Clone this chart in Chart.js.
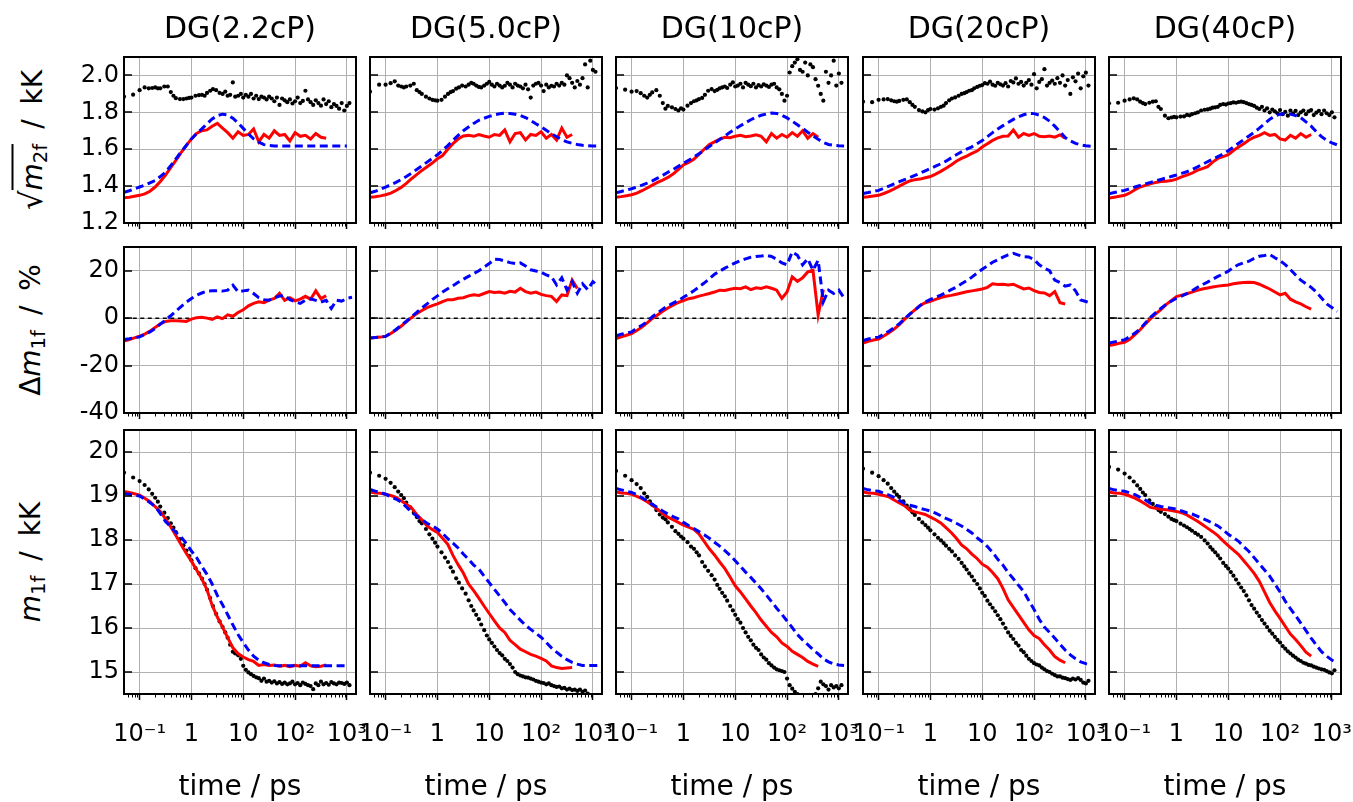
<!DOCTYPE html>
<html>
<head>
<meta charset="utf-8">
<title>Solvation dynamics in DG mixtures</title>
<script src="https://cdn.jsdelivr.net/npm/chart.js@4.4.1/dist/chart.umd.min.js"></script>
<style>
  html, body { margin: 0; padding: 0; background: #fff; }
  #fig { position: relative; width: 1353px; height: 802px; overflow: hidden;
         font-family: "DejaVu Sans", sans-serif; color: #000; }
  #fig canvas { position: absolute; left: 0; top: 0; }
  .ylab { position: absolute; left: 31px; transform: translate(-50%, -50%) rotate(-90deg);
          white-space: nowrap; font-size: 28px; line-height: 1; word-spacing: 6px; }
  .ylab i { font-style: italic; }
  .ylab sub { font-size: 70%; vertical-align: -0.28em; line-height: 0; }
  .ylab .rad { font-size: 110%; }
  .ylab .ov { border-top: 2px solid #000; padding-top: 2px; }
</style>
</head>
<body>
<div id="fig">
  <div class="ylab" style="top:140px"><span class="rad">√</span><span class="ov"><i>m</i><sub>2f</sub></span> / kK</div>
  <div class="ylab" style="top:330px">Δ<i>m</i><sub>1f</sub> / %</div>
  <div class="ylab" style="top:562px"><i>m</i><sub>1f</sub> / kK</div>
</div>
<script>
// ---------------------------------------------------------------
// Time grids (ps)
// ---------------------------------------------------------------
const tFine = [0.0501,0.0631,0.0794,
  0.1,0.1259,0.1585,0.1995,0.2512,0.3162,0.3981,0.5012,0.631,0.7943,
  1,1.259,1.585,1.995,2.512,3.162,3.981,5.012,6.31,7.943,
  10,12.59,15.85,19.95,25.12,31.62,39.81,50.12,63.1,79.43,
  100,125.9,158.5,199.5,251.2,316.2,398.1,501.2,631,794.3,
  1000,1259];

const tDots = [0.05,0.075,0.1,0.125,0.15,0.175,0.2,0.225,0.25,
  0.3,0.35,0.4,0.45,0.5,0.6,0.7,0.8,0.9,
  1,1.2,1.4,1.6,1.8,2,2.3,2.6,3,
  3.5,4,4.5,5,5.6,6.3,7,8,9,
  10,11.22,12.59,14.13,15.85,17.78,19.95,22.39,25.12,28.18,
  31.62,35.48,39.81,44.67,50.12,56.23,63.1,70.79,79.43,89.13,
  100,112.2,125.9,141.3,158.5,177.8,199.5,223.9,251.2,281.8,
  316.2,354.8,398.1,446.7,501.2,562.3,631,707.9,794.3,891.3,
  1000,1122];

// ---------------------------------------------------------------
// Band width sqrt(m2f) / kK
// ---------------------------------------------------------------
const w22Exp = [1.885,1.896,1.92,1.935,1.93,1.932,1.935,1.93,1.93,
  1.94,1.94,1.91,1.89,1.877,1.872,1.872,1.875,1.878,
  1.88,1.89,1.893,1.895,1.89,1.905,1.917,1.926,1.92,
  1.905,1.9,1.912,1.89,1.895,1.962,1.885,1.89,1.9,
  1.88,1.895,1.885,1.9,1.875,1.89,1.872,1.885,1.88,1.87,
  1.885,1.875,1.86,1.88,1.84,1.875,1.865,1.855,1.87,1.848,
  1.86,1.88,1.85,1.862,1.917,1.87,1.855,1.84,1.865,1.85,
  1.836,1.87,1.845,1.86,1.828,1.845,1.835,1.82,1.85,1.81,
  1.835,1.85];
const w22Sim = [1.337,1.34,1.345,
  1.35,1.358,1.372,1.395,1.425,1.46,1.50,1.54,1.582,1.62,
  1.656,1.686,1.70,1.705,1.725,1.74,1.715,1.69,1.66,1.695,
  1.675,1.68,1.71,1.64,1.68,1.66,1.70,1.675,1.68,1.645,
  1.69,1.67,1.675,1.655,1.685,1.665,1.66,null,null,null,
  null,null];
const w22Mod = [1.367,1.375,1.385,
  1.395,1.405,1.418,1.43,1.452,1.476,1.51,1.548,1.585,1.62,
  1.656,1.685,1.71,1.738,1.764,1.782,1.79,1.786,1.768,1.742,
  1.713,1.683,1.656,1.638,1.625,1.62,1.618,1.618,1.618,1.618,
  1.618,1.618,1.618,1.618,1.618,1.618,1.618,1.618,1.618,1.618,
  1.618,null];

const w50Exp = [1.912,1.95,1.95,1.958,1.968,1.945,1.94,1.935,1.94,
  1.945,1.955,1.92,1.91,1.9,1.885,1.875,1.868,1.865,
  1.863,1.868,1.885,1.9,1.91,1.915,1.928,1.935,1.945,
  1.94,1.95,1.96,1.955,1.945,1.938,1.935,1.945,1.955,
  1.965,1.95,1.94,1.955,1.945,1.935,1.944,1.96,1.95,1.935,
  1.955,1.945,1.94,1.93,1.95,1.925,1.88,1.945,1.955,1.96,
  1.945,1.915,1.95,1.935,1.944,1.94,1.955,1.945,1.96,1.95,
  2.0,1.985,1.96,1.935,1.97,1.95,1.985,2.06,1.935,2.08,
  2.03,2.02];
const w50Sim = [1.34,1.342,1.347,
  1.353,1.362,1.376,1.393,1.415,1.44,1.462,1.485,1.505,1.525,
  1.548,1.566,1.6,1.63,1.655,1.672,1.675,1.67,1.68,1.672,
  1.665,1.68,1.675,1.705,1.64,1.685,1.69,1.65,1.68,1.675,
  1.695,1.66,1.68,1.65,1.715,1.665,1.68,null,null,null,
  null,null];
const w50Mod = [1.364,1.372,1.383,
  1.395,1.407,1.42,1.435,1.452,1.47,1.49,1.51,1.53,1.55,
  1.57,1.595,1.62,1.648,1.675,1.70,1.72,1.74,1.757,1.768,
  1.778,1.786,1.792,1.795,1.794,1.79,1.783,1.772,1.756,1.738,
  1.722,1.703,1.684,1.668,1.652,1.64,1.632,1.626,1.621,1.619,
  1.618,1.618];

const w10Exp = [1.932,1.923,1.912,1.915,1.904,1.89,1.88,1.895,1.908,
  1.92,1.89,1.85,1.82,1.835,1.827,1.818,1.81,1.822,
  1.815,1.836,1.85,1.86,1.865,1.872,1.878,1.895,1.917,
  1.926,1.915,1.922,1.93,1.935,1.94,1.932,1.95,1.962,
  1.94,1.945,1.955,1.935,1.96,1.95,1.942,1.955,1.935,1.948,
  1.94,1.952,1.945,1.938,1.95,1.955,1.935,1.925,1.9,1.863,
  1.89,2.016,2.05,2.07,2.088,2.03,2.02,2.07,2.0,2.06,
  2.045,1.98,1.944,1.9,1.863,2.02,1.96,2.0,2.08,1.945,
  2.01,1.96];
const w10Sim = [1.34,1.343,1.348,
  1.353,1.362,1.375,1.39,1.405,1.42,1.433,1.447,1.465,1.49,
  1.515,1.528,1.545,1.572,1.6,1.625,1.64,1.655,1.665,1.662,
  1.67,1.675,1.668,1.672,1.678,1.67,1.64,1.685,1.66,1.68,
  1.665,1.69,1.67,1.7,1.66,1.685,1.665,null,null,null,
  null,null];
const w10Mod = [1.364,1.371,1.378,
  1.386,1.395,1.405,1.416,1.428,1.443,1.458,1.475,1.49,1.507,
  1.523,1.54,1.557,1.575,1.595,1.615,1.634,1.653,1.672,1.692,
  1.71,1.727,1.744,1.76,1.773,1.784,1.791,1.796,1.794,1.784,
  1.77,1.752,1.733,1.713,1.692,1.672,1.654,1.637,1.626,1.621,
  1.619,1.618];

const w20Exp = [1.858,1.855,1.868,1.87,1.872,1.865,1.86,1.858,1.862,
  1.868,1.87,1.855,1.84,1.83,1.812,1.805,1.8,1.812,
  1.818,1.815,1.822,1.83,1.836,1.85,1.865,1.875,1.881,
  1.89,1.9,1.904,1.91,1.917,1.92,1.93,1.938,1.944,
  1.948,1.958,1.955,1.966,1.95,1.944,1.96,1.952,1.945,1.958,
  1.94,1.97,1.962,1.984,1.955,1.965,1.945,1.96,1.975,1.95,
  2.007,1.93,1.965,1.98,2.034,1.945,1.96,1.972,1.955,1.985,
  1.96,2.0,1.945,1.975,1.9,1.99,1.968,2.01,1.93,1.995,
  2.015,1.945];
const w20Sim = [1.34,1.342,1.346,
  1.35,1.36,1.372,1.385,1.4,1.415,1.428,1.435,1.438,1.445,
  1.452,1.465,1.48,1.497,1.515,1.535,1.55,1.563,1.577,1.59,
  1.612,1.63,1.648,1.662,1.67,1.672,1.705,1.665,1.685,1.675,
  1.685,1.67,1.668,1.672,1.665,1.678,1.66,null,null,null,
  null,null];
const w20Mod = [1.36,1.365,1.371,
  1.377,1.388,1.4,1.412,1.424,1.435,1.446,1.458,1.47,1.483,
  1.495,1.508,1.521,1.535,1.553,1.57,1.586,1.6,1.613,1.63,
  1.647,1.668,1.69,1.71,1.728,1.745,1.762,1.776,1.787,1.794,
  1.793,1.785,1.772,1.752,1.725,1.695,1.663,1.645,1.632,1.624,
  1.619,1.616];

const w40Exp = [1.849,1.852,1.863,1.87,1.876,1.87,1.858,1.85,1.845,
  1.852,1.858,1.86,1.83,1.818,1.782,1.768,1.772,1.775,
  1.773,1.777,1.778,1.786,1.784,1.79,1.795,1.8,1.81,
  1.814,1.816,1.82,1.825,1.827,1.83,1.84,1.845,1.842,
  1.848,1.85,1.854,1.852,1.856,1.858,1.855,1.85,1.845,1.84,
  1.835,1.825,1.818,1.83,1.81,1.822,1.8,1.815,1.805,1.795,
  1.812,1.79,1.802,1.782,1.81,1.795,1.808,1.785,1.8,1.81,
  1.79,1.805,1.812,1.785,1.798,1.808,1.79,1.81,1.795,1.785,
  1.8,1.773];
const w40Sim = [1.335,1.34,1.345,
  1.35,1.363,1.38,1.395,1.404,1.412,1.42,1.425,1.427,1.43,
  1.438,1.45,1.46,1.47,1.485,1.495,1.505,1.53,1.55,1.56,
  1.57,1.593,1.612,1.63,1.65,1.665,1.675,1.69,1.675,1.68,
  1.656,1.65,1.675,1.66,1.685,1.665,1.68,null,null,null,
  null,null];
const w40Mod = [1.359,1.365,1.371,
  1.377,1.386,1.395,1.404,1.412,1.42,1.428,1.436,1.444,1.452,
  1.46,1.469,1.478,1.49,1.503,1.518,1.532,1.546,1.56,1.574,
  1.592,1.612,1.632,1.652,1.672,1.692,1.714,1.738,1.762,1.78,
  1.79,1.792,1.79,1.782,1.771,1.748,1.725,1.695,1.668,1.648,
  1.634,1.624];

// ---------------------------------------------------------------
// Relative shift of the first moment, delta m1f / %
// ---------------------------------------------------------------
const d22Sim = [-9.7,-9.0,-8.3,
  -7.6,-6.7,-5.5,-3.9,-2.4,-1.4,-1.1,-1.1,-1.2,-1.4,
  -0.4,0.2,0.4,0.0,-0.5,0.5,-0.2,1.4,0.8,2.4,
  3.5,5.2,6.2,6.9,6.5,7.6,8.3,10.5,7.5,8.6,
  7.3,8.0,9.2,8.0,11.5,8.2,9.5,null,null,null,
  null,null];
const d22Mod = [-9.0,-8.7,-8.3,
  -7.9,-6.9,-5.8,-4.3,-2.5,-0.8,1.0,3.0,4.9,6.7,
  8.3,9.7,10.6,11.4,11.5,11.6,11.4,11.8,13.9,11.1,
  11.5,11.8,10.4,8.6,7.8,7.6,8.6,9.3,9.6,7.8,
  6.9,6.2,7.6,8.2,7.5,6.8,7.5,4.1,7.6,7.2,
  8.3,8.8];

const d50Sim = [-8.4,-8.2,-8.0,
  -7.7,-6.5,-5.0,-3.4,-1.6,0.2,1.9,3.2,4.4,5.3,
  6.0,7.0,7.8,7.8,8.4,8.6,9.4,9.9,9.6,10.4,
  11.2,10.8,11.0,10.5,11.3,11.0,12.6,11.2,10.5,11.0,
  10.0,9.5,9.2,7.0,9.8,9.5,16.1,12.5,null,null,
  null,null];
const d50Mod = [-8.4,-8.2,-8.0,
  -7.7,-6.3,-4.8,-3.0,-1.3,0.6,2.4,4.3,6.0,7.8,
  9.4,11.0,12.4,13.7,15.1,16.4,17.6,18.8,20.0,21.5,
  23.0,24.8,24.7,24.1,23.4,23.0,23.3,22.0,20.4,19.9,
  19.4,18.2,17.5,14.0,17.0,11.9,15.4,10.5,14.5,12.0,
  15.4,13.6];

const d10Sim = [-8.6,-7.9,-7.2,
  -6.5,-5.2,-3.8,-2.0,-0.1,1.3,2.9,4.3,5.5,6.6,
  7.4,8.2,8.6,9.3,9.8,10.4,11.0,11.8,11.7,12.2,
  12.6,12.4,13.2,12.0,12.8,12.5,13.2,12.6,11.8,8.3,
  11.0,17.4,15.5,17.0,19.5,20.2,1.3,12.0,null,null,
  null,null];
const d10Mod = [-7.4,-6.8,-6.3,
  -5.8,-4.2,-3.0,-1.5,0.6,2.2,3.8,5.2,6.3,7.4,
  8.8,10.1,11.5,13.2,14.8,16.6,18.5,19.8,21.1,22.2,
  23.3,24.3,25.0,25.7,26.0,26.2,26.5,26.0,24.8,23.3,
  22.5,27.9,26.5,22.5,25.0,20.2,24.4,6.9,11.8,10.4,
  11.8,8.5];

const d20Sim = [-10.5,-9.8,-9.2,
  -8.8,-7.5,-6.2,-4.6,-2.7,-0.5,1.6,3.5,5.3,6.5,
  7.1,7.9,8.7,9.2,9.6,10.1,10.6,11.1,11.5,11.9,
  12.3,13.0,14.5,14.2,14.3,14.0,14.3,13.3,12.3,12.7,
  11.6,10.8,10.6,9.5,11.2,6.5,6.0,null,null,null,
  null,null];
const d20Mod = [-9.4,-8.8,-8.3,
  -8.0,-6.8,-5.5,-4.0,-2.4,-0.3,1.7,3.4,5.3,6.8,
  7.9,8.8,9.7,10.8,12.0,13.1,14.5,15.8,17.3,19.0,
  20.6,22.0,23.6,24.6,25.7,26.7,27.3,26.6,25.9,25.8,
  24.6,22.5,21.0,20.0,16.0,15.0,13.5,14.0,11.5,7.7,
  7.0,6.3];

const d40Sim = [-11.6,-11.1,-10.6,
  -10.2,-8.9,-7.0,-4.9,-2.5,-0.2,1.8,3.6,5.7,7.4,
  9.1,9.7,10.3,11.0,11.7,12.3,12.7,13.1,13.5,13.8,
  14.0,14.5,14.8,15.0,15.1,15.0,14.3,13.3,12.3,11.0,
  9.8,10.5,8.0,6.9,6.0,4.8,3.8,null,null,null,
  null,null];
const d40Mod = [-10.5,-10.0,-9.6,
  -9.1,-7.8,-6.3,-4.5,-2.0,0.3,2.3,4.1,5.8,7.1,
  8.4,9.3,10.3,11.5,12.9,14.1,15.2,16.4,17.6,18.6,
  19.8,21.4,22.6,23.3,24.0,25.2,26.1,26.4,26.9,25.5,
  24.2,22.6,20.5,18.2,16.0,14.5,13.0,11.0,8.5,6.0,
  4.5,2.8];

// reference level of the shift panels
const zeroT = [0.01, 10000];
const zeroV = [0, 0];

// ---------------------------------------------------------------
// First moment m1f / kK
// ---------------------------------------------------------------
const m22Exp = [19.53,19.42,19.34,19.25,19.15,19.05,18.96,18.87,18.76,
  18.62,18.5,18.38,18.28,18.18,18.02,17.88,17.76,17.64,
  17.54,17.36,17.24,17.12,17.0,16.87,16.68,16.5,16.32,
  16.15,16.02,15.9,15.78,15.62,15.46,15.42,15.38,15.3,
  15.14,15.05,14.99,14.95,14.91,14.88,14.86,14.8,14.85,14.78,
  14.8,14.76,14.79,14.74,14.77,14.73,14.76,14.72,14.74,14.78,
  14.72,14.75,14.7,14.76,14.73,14.7,14.68,14.61,14.74,14.7,
  14.78,14.72,14.75,14.71,14.77,14.74,14.72,14.76,14.75,14.73,
  14.76,14.7];
const m22Sim = [19.1,19.08,19.05,
  19.02,18.95,18.87,18.76,18.65,18.48,18.3,18.1,17.9,17.7,
  17.52,17.32,17.12,16.87,16.52,16.25,16.02,15.78,15.55,15.42,
  15.34,15.28,15.24,15.15,15.17,15.15,15.16,15.13,15.15,15.12,
  15.15,15.13,15.21,15.14,15.12,15.13,15.16,null,null,null,
  null,null];
const m22Mod = [19.05,19.04,19.02,
  19.0,18.93,18.85,18.76,18.6,18.42,18.3,18.17,18.07,17.92,
  17.75,17.6,17.4,17.22,17.0,16.74,16.53,16.3,16.07,15.85,
  15.67,15.5,15.36,15.27,15.21,15.17,15.15,15.14,15.14,15.14,
  15.14,15.14,15.14,15.14,15.14,15.14,15.14,15.14,15.14,15.14,
  15.14,null];

const m50Exp = [19.53,19.46,19.39,19.3,19.2,19.1,19.02,18.95,18.85,
  18.74,18.62,18.52,18.43,18.38,18.25,18.13,18.03,17.94,
  17.85,17.72,17.6,17.5,17.38,17.28,17.13,17.03,16.9,
  16.78,16.63,16.5,16.4,16.3,16.2,16.08,15.95,15.83,
  15.74,15.66,15.58,15.5,15.43,15.38,15.3,15.25,15.18,15.1,
  15.0,14.95,14.92,14.9,14.88,14.87,14.85,14.83,14.8,14.78,
  14.76,14.75,14.72,14.74,14.7,14.68,14.66,14.67,14.63,14.64,
  14.6,14.62,14.59,14.6,14.57,14.6,14.55,14.58,14.51,null,
  null,null];
const m50Sim = [19.09,19.07,19.06,
  19.04,19.01,18.97,18.89,18.81,18.73,18.58,18.46,18.32,18.24,
  18.17,18.04,17.9,17.65,17.44,17.25,17.0,16.85,16.68,16.5,
  16.33,16.16,16.0,15.9,15.72,15.62,15.52,15.46,15.4,15.36,
  15.31,15.25,15.14,15.1,15.08,15.09,15.1,null,null,null,
  null,null];
const m50Mod = [19.15,19.11,19.08,
  19.04,18.98,18.93,18.86,18.75,18.63,18.55,18.46,18.38,18.32,
  18.25,18.15,18.03,17.93,17.82,17.68,17.56,17.43,17.34,17.18,
  17.03,16.88,16.73,16.58,16.42,16.3,16.18,16.06,15.97,15.88,
  15.79,15.67,15.55,15.45,15.36,15.28,15.22,15.18,15.15,15.15,
  15.15,15.15];

const m10Exp = [19.57,19.46,19.36,19.27,19.18,19.06,18.98,18.88,18.8,
  18.68,18.58,18.51,18.47,18.4,18.3,18.2,18.14,18.08,
  18.03,17.95,17.85,17.8,17.72,17.65,17.5,17.4,17.3,
  17.2,17.1,16.98,16.89,16.8,16.72,16.62,16.5,16.4,
  16.3,16.2,16.12,16.0,15.9,15.8,15.72,15.62,15.55,15.5,
  15.4,15.33,15.28,15.2,15.15,15.1,15.06,15.04,15.02,15.0,
  14.85,14.7,14.62,14.55,14.5,14.45,14.42,14.44,14.4,14.42,
  14.45,14.5,14.63,14.78,14.72,14.68,14.6,14.7,14.65,14.68,
  14.63,14.7];
const m10Sim = [19.09,19.07,19.06,
  19.04,18.99,18.94,18.87,18.79,18.7,18.6,18.52,18.46,18.4,
  18.34,18.29,18.24,18.14,17.97,17.8,17.66,17.5,17.35,17.16,
  16.96,16.82,16.66,16.5,16.35,16.18,16.04,15.9,15.8,15.66,
  15.58,15.47,15.4,15.33,15.24,15.18,15.13,null,null,null,
  null,null];
const m10Mod = [19.17,19.14,19.11,
  19.08,19.03,18.96,18.89,18.81,18.74,18.66,18.59,18.53,18.48,
  18.4,18.33,18.26,18.19,18.12,18.04,17.95,17.86,17.76,17.65,
  17.53,17.4,17.27,17.15,17.02,16.89,16.75,16.6,16.45,16.31,
  16.16,16.01,15.85,15.73,15.62,15.51,15.41,15.3,15.23,15.18,
  15.16,15.15];

const m20Exp = [19.62,19.53,19.45,19.36,19.28,19.18,19.1,19.03,18.98,
  18.88,18.78,18.7,18.63,18.57,18.48,18.4,18.34,18.28,
  18.22,18.13,18.05,17.99,17.93,17.87,17.8,17.74,17.65,
  17.57,17.48,17.4,17.33,17.24,17.17,17.08,17.0,16.9,
  16.8,16.73,16.62,16.54,16.46,16.38,16.29,16.2,16.1,16.0,
  15.9,15.82,15.75,15.66,15.6,15.5,15.45,15.37,15.3,15.25,
  15.2,15.17,15.15,15.1,15.06,15.02,15.0,14.96,14.93,14.9,
  14.9,14.87,14.86,14.84,14.82,14.85,14.83,14.86,14.82,14.76,
  14.74,14.8];
const m20Sim = [19.09,19.07,19.06,
  19.04,19.01,18.98,18.91,18.84,18.78,18.68,18.64,18.61,18.58,
  18.52,18.46,18.39,18.28,18.17,18.04,17.89,17.8,17.68,17.58,
  17.45,17.38,17.26,17.12,16.9,16.64,16.47,16.3,16.13,15.96,
  15.83,15.76,15.62,15.5,15.35,15.27,15.21,null,null,null,
  null,null];
const m20Mod = [19.17,19.14,19.12,
  19.11,19.06,19.02,18.97,18.9,18.83,18.79,18.76,18.72,18.69,
  18.66,18.61,18.55,18.49,18.44,18.38,18.32,18.24,18.16,18.05,
  17.96,17.85,17.72,17.56,17.43,17.26,17.12,16.97,16.83,16.62,
  16.42,16.2,16.02,15.9,15.77,15.63,15.5,15.39,15.3,15.23,
  15.19,15.16];

const m40Exp = [19.66,19.6,19.51,19.42,19.33,19.24,19.16,19.08,19.02,
  18.9,18.82,18.74,18.68,18.64,18.59,18.53,18.48,18.45,
  18.43,18.37,18.33,18.29,18.25,18.21,18.16,18.12,18.07,
  17.99,17.92,17.84,17.78,17.72,17.65,17.58,17.48,17.41,
  17.35,17.27,17.19,17.1,17.01,16.92,16.84,16.74,16.63,16.52,
  16.44,16.35,16.27,16.18,16.1,16.02,15.94,15.87,15.8,15.73,
  15.67,15.59,15.53,15.47,15.42,15.37,15.33,15.28,15.25,15.21,
  15.19,15.16,15.15,15.12,15.1,15.08,15.06,15.05,15.02,14.99,
  14.97,15.04];
const m40Sim = [19.09,19.07,19.06,
  19.04,19.0,18.95,18.89,18.82,18.74,18.72,18.7,18.69,18.67,
  18.65,18.62,18.57,18.5,18.43,18.35,18.27,18.19,18.1,17.98,
  17.87,17.77,17.67,17.53,17.39,17.24,17.06,16.82,16.58,16.39,
  16.22,16.04,15.86,15.74,15.6,15.45,15.36,null,null,null,
  null,null];
const m40Mod = [19.17,19.14,19.12,
  19.11,19.07,19.03,18.97,18.91,18.83,18.79,18.76,18.74,18.72,
  18.7,18.66,18.62,18.59,18.54,18.49,18.44,18.38,18.32,18.23,
  18.13,18.05,17.97,17.85,17.74,17.6,17.46,17.32,17.18,17.0,
  16.82,16.61,16.44,16.28,16.11,15.94,15.77,15.61,15.46,15.36,
  15.27,15.2];

// ---------------------------------------------------------------
// Labels and ticks
// ---------------------------------------------------------------
const solvents = ['DG(2.2cP)', 'DG(5.0cP)', 'DG(10cP)', 'DG(20cP)', 'DG(40cP)'];
const xMajor = [0.1, 1, 10, 100, 1000];
const xTickLabels = ['10⁻¹', '1', '10', '10²', '10³'];
const yTicksWidth = [1.2, 1.4, 1.6, 1.8, 2.0];
const yTicksShift = [-40, -20, 0, 20];
const yTicksM1 = [15, 16, 17, 18, 19, 20];
const xLabel = 'time / ps';

// series per row: [experiment, simulation, model] for each solvent
const widthRow = [[w22Exp, w22Sim, w22Mod], [w50Exp, w50Sim, w50Mod], [w10Exp, w10Sim, w10Mod],
                  [w20Exp, w20Sim, w20Mod], [w40Exp, w40Sim, w40Mod]];
const shiftRow = [[null, d22Sim, d22Mod], [null, d50Sim, d50Mod], [null, d10Sim, d10Mod],
                  [null, d20Sim, d20Mod], [null, d40Sim, d40Mod]];
const m1Row    = [[m22Exp, m22Sim, m22Mod], [m50Exp, m50Sim, m50Mod], [m10Exp, m10Sim, m10Mod],
                  [m20Exp, m20Sim, m20Mod], [m40Exp, m40Sim, m40Mod]];

// ---------------------------------------------------------------
// Figure geometry
// ---------------------------------------------------------------
const FIG_W = 1353, FIG_H = 802;
const COL_LEFT = [124, 370, 616, 863, 1109];
const PANEL_W = 232;
const X_MIN = 0.05, X_MAX = 1500;
const GRID = '#b0b0b0';
const FONT = '"DejaVu Sans", sans-serif';

const ROWS = [
  { top: 57,  bottom: 223, min: 1.2,  max: 2.1,  ticks: yTicksWidth, fmt: v => v.toFixed(1), series: widthRow, zero: false },
  { top: 247, bottom: 413, min: -40,  max: 30,   ticks: yTicksShift, fmt: v => String(v),   series: shiftRow, zero: true },
  { top: 430, bottom: 694, min: 14.5, max: 20.5, ticks: yTicksM1,    fmt: v => String(v),   series: m1Row,    zero: false }
];

// minor decade ticks 2..9 x 10^k
const xMinor = [];
for (let k = -2; k <= 3; k++) for (let m = 2; m <= 9; m++) xMinor.push(m * Math.pow(10, k));

Chart.defaults.font.family = FONT;
Chart.defaults.color = '#000';

const xy = (ts, vs) => ts.map((t, i) => ({ x: t, y: vs[i] }));

// frame, inward y ticks and minor x ticks
const panelFrame = {
  id: 'panelFrame',
  afterDraw(chart) {
    const { ctx, chartArea: a } = chart;
    const xs = chart.scales.x, ys = chart.scales.y;
    ctx.save();
    ctx.strokeStyle = '#000';
    ctx.lineWidth = 1;
    ctx.beginPath();
    for (const v of xMinor) {
      const px = Math.round(xs.getPixelForValue(v)) + 0.5;
      if (px <= a.left + 1 || px >= a.right - 1) continue;
      ctx.moveTo(px, a.bottom);
      ctx.lineTo(px, a.bottom + 3.5);
    }
    ctx.stroke();
    ctx.lineWidth = 1.6;
    ctx.beginPath();
    for (const t of ys.ticks) {
      const py = Math.round(ys.getPixelForValue(t.value));
      ctx.moveTo(a.left, py);
      ctx.lineTo(a.left + 8, py);
    }
    ctx.stroke();
    ctx.lineWidth = 2;
    ctx.strokeRect(a.left, a.top, a.right - a.left, a.bottom - a.top);
    ctx.restore();
  }
};

function makePanel(r, c) {
  const row = ROWS[r];
  const left = COL_LEFT[c], right = left + PANEL_W;
  const yW = c === 0 ? 100 : 0;
  const xH = r === 2 ? FIG_H - row.bottom : 12;
  const topH = r === 0 ? row.top : 0;
  const [exp, sim, mod] = row.series[c];

  const datasets = [
    { data: xy(tFine, mod), borderColor: '#0000ff', borderWidth: 3, borderDash: [8, 4.5], pointRadius: 0 },
    { data: xy(tFine, sim), borderColor: '#ff0000', borderWidth: 3, pointRadius: 0 }
  ];
  if (exp) datasets.push({ data: xy(tDots, exp), showLine: false, pointRadius: 2.1,
                           pointBackgroundColor: '#000', pointBorderColor: '#000', pointBorderWidth: 0 });
  if (row.zero) datasets.push({ data: xy(zeroT, zeroV), borderColor: '#000', borderWidth: 1.5,
                                borderDash: [4, 3.5], pointRadius: 0 });
  datasets.forEach(d => Object.assign(d, { xAxisID: 'x', yAxisID: 'y', fill: false, tension: 0, spanGaps: false }));

  const scales = {
    x: {
      type: 'logarithmic', position: 'bottom', min: X_MIN, max: X_MAX,
      afterBuildTicks: s => { s.ticks = xMajor.map(v => ({ value: v, major: true })); },
      afterFit: s => { s.height = xH; s.paddingLeft = 0; s.paddingRight = 0; },
      grid: { color: GRID, lineWidth: 1, drawTicks: true, tickLength: 6, tickColor: '#000', tickWidth: 1.5 },
      border: { display: false },
      ticks: { display: r === 2, autoSkip: false, maxRotation: 0, minRotation: 0, padding: 20,
               font: { size: 24 }, color: '#000',
               callback: v => { const i = xMajor.indexOf(v); return i < 0 ? '' : xTickLabels[i]; } },
      title: { display: r === 2, text: xLabel, font: { size: 28, lineHeight: 1.05 }, color: '#000',
               padding: { top: 0, bottom: 0 } }
    },
    y: {
      type: 'linear', position: 'left', min: row.min, max: row.max,
      afterBuildTicks: s => { s.ticks = row.ticks.map(v => ({ value: v })); },
      afterFit: s => { s.width = yW; s.paddingTop = 0; s.paddingBottom = 0; },
      grid: { color: GRID, lineWidth: 1, drawTicks: false },
      border: { display: false },
      ticks: { display: c === 0, padding: 5, font: { size: 24 }, color: '#000', callback: v => row.fmt(v) }
    }
  };
  if (r === 0) {
    scales.xTop = {
      type: 'linear', position: 'top', min: 0, max: 1,
      afterFit: s => { s.height = topH; s.paddingLeft = 0; s.paddingRight = 0; },
      grid: { display: false, drawTicks: false }, border: { display: false },
      ticks: { display: false },
      title: { display: true, text: solvents[c], font: { size: 30 }, color: '#000', padding: { top: 12, bottom: 0 } }
    };
  }

  const cv = document.createElement('canvas');
  cv.width = FIG_W; cv.height = FIG_H;
  document.getElementById('fig').appendChild(cv);

  new Chart(cv, {
    type: 'line',
    data: { datasets },
    options: {
      responsive: false, animation: false, events: [],
      layout: { padding: { left: left - yW, right: FIG_W - right, top: row.top - topH, bottom: FIG_H - row.bottom - xH } },
      plugins: { legend: { display: false }, tooltip: { enabled: false } },
      scales
    },
    plugins: [panelFrame]
  });
}

for (let r = 0; r < 3; r++) for (let c = 0; c < 5; c++) makePanel(r, c);
</script>
</body>
</html>
